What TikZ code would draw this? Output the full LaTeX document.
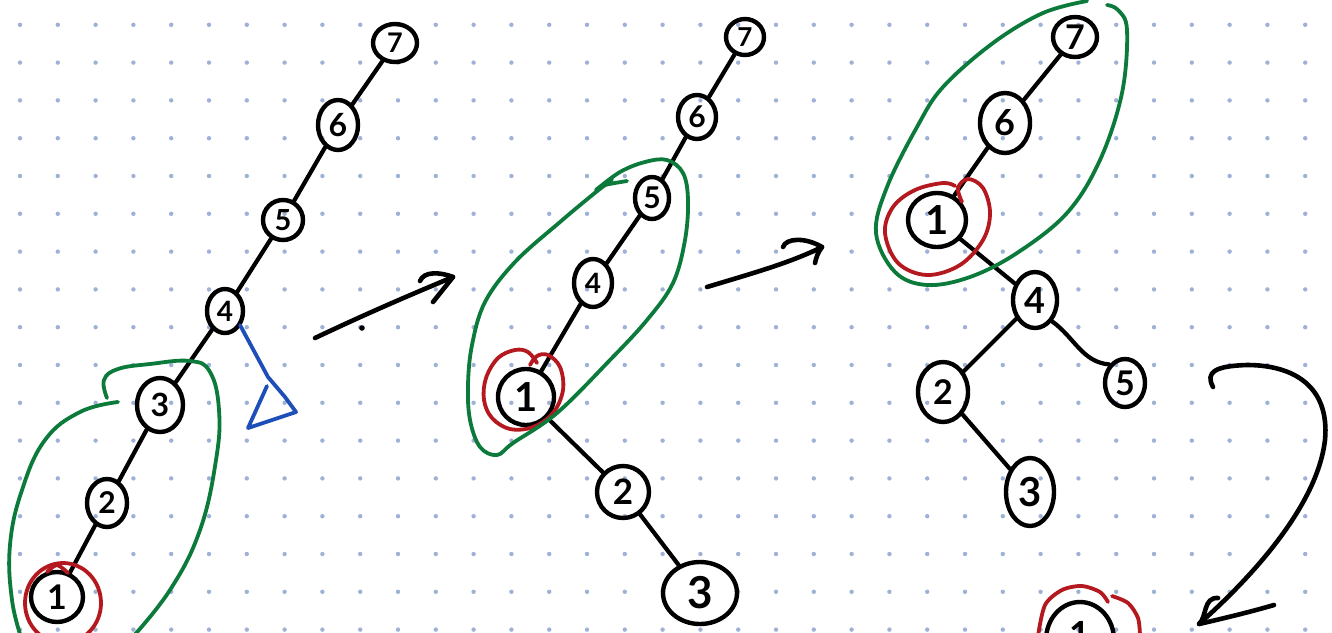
\documentclass[tikz,border=0pt]{standalone}
\usepackage{fontspec}
\setmainfont{Lato}
\usetikzlibrary{shapes.geometric}
\definecolor{inkgreen}{HTML}{0B7A3B}
\definecolor{inkred}{HTML}{B3191E}
\definecolor{inkblue}{HTML}{1E4FB8}
\definecolor{gridblue}{HTML}{9EB1D6}
\newcommand\digsz[1]{\fontsize{#1}{#1}\selectfont\bfseries}
\tikzset{
  vtx/.style={draw, ellipse, line width=4.4pt, inner sep=0pt},
  edge/.style={line width=4.2pt, line cap=round},
  pen/.style={line width=4.6pt, line cap=round, line join=round},
  gloop/.style={draw=inkgreen, line width=3.8pt, line cap=round, line join=round},
  rloop/.style={draw=inkred, line width=3.8pt, line cap=round, line join=round},
  bpen/.style={draw=inkblue, line width=3.8pt, line cap=round, line join=round},
}
\begin{document}
\begin{tikzpicture}[x=1pt,y=-1pt]
\useasboundingbox (0,0) rectangle (1332,632);
\clip (0,0) rectangle (1332,632);
\fill[white] (0,0) rectangle (1332,632);
% dotted paper
\foreach \i in {0,...,34}
  \foreach \j in {0,...,16}
    \fill[gridblue] (20+37.8*\i, 24.8+37.8*\j) circle (2.2);

% ---------- first tree: a chain 7-6-5-4-3-2-1 ----------
\node[vtx, minimum width=44pt, minimum height=38pt, font=\digsz{27}] (a7) at (395,43) {7};
\node[vtx, minimum width=40pt, minimum height=50pt, font=\digsz{32}] (a6) at (338,125) {6};
\node[vtx, minimum width=40pt, minimum height=40pt, font=\digsz{29}] (a5) at (283,220) {5};
\node[vtx, minimum width=36pt, minimum height=44pt, font=\digsz{28}] (a4) at (225,311) {4};
\node[vtx, minimum width=46pt, minimum height=54pt, font=\digsz{32}] (a3) at (160,405) {3};
\node[vtx, minimum width=40pt, minimum height=48pt, font=\digsz{30}] (a2) at (107,503) {2};
\node[vtx, minimum width=52pt, minimum height=50pt, font=\digsz{34}] (a1) at (57,597) {1};
\draw[edge] (a7) -- (a6);
\draw[edge] (a6) -- (a5);
\draw[edge] (a5) -- (a4);
\draw[edge] (a4) -- (a3);
\draw[edge] (a3) -- (a2);
\draw[edge] (a2) -- (a1);
% highlighted leaf and splayed group
\draw[rloop] (63,603) ellipse (38 and 40);
\draw[rloop] plot[smooth] coordinates {(47,572) (57,565) (68,573)};
\draw[gloop] plot[smooth, tension=0.7] coordinates
  {(118,402) (80,412) (45,440) (22,490) (10,545) (12,600) (22,640)};
\draw[gloop] plot[smooth, tension=0.7] coordinates
  {(107,398) (104,380) (118,369) (150,364) (190,361) (210,372) (219,410) (216,460) (200,530) (170,590) (130,640)};
% rotation mark
\draw[bpen] (240,325) -- (268,377) -- (285,397) -- (296,412) -- (248,428) -- (267,386);

% arrow to the second tree
\coordinate (r1s) at (315,338);
\coordinate (r1e) at (453,277);
\draw[pen] (r1s) .. controls (370,312) and (410,295) .. (r1e);
\draw[pen] (420,281) .. controls (424,271) and (440,272) .. (r1e) -- (433,302);
\fill (362,328) circle (2.8);

% ---------- second tree ----------
\node[vtx, minimum width=38pt, minimum height=36pt, font=\digsz{26}] (b7) at (745,37) {7};
\node[vtx, minimum width=38pt, minimum height=44pt, font=\digsz{30}] (b6) at (697,117) {6};
\node[vtx, minimum width=34pt, minimum height=42pt, font=\digsz{30}] (b5) at (652,198) {5};
\node[vtx, minimum width=38pt, minimum height=48pt, font=\digsz{28}] (b4) at (593,283) {4};
\node[vtx, minimum width=56pt, minimum height=56pt, font=\digsz{40}] (b1) at (526,397) {1};
\node[vtx, minimum width=52pt, minimum height=52pt, font=\digsz{35}] (b2) at (623,492) {2};
\node[vtx, minimum width=74pt, minimum height=62pt, font=\digsz{44}] (b3) at (700,593) {3};
\draw[edge] (b7) -- (b6);
\draw[edge] (b6) -- (b5);
\draw[edge] (b5) -- (b4);
\draw[edge] (b4) -- (b1);
\draw[edge] (b1) -- (b2);
\draw[edge] (b2) -- (b3);
\draw[rloop] plot[smooth, tension=0.6] coordinates
  {(537,363) (528,352) (515,350) (498,358) (486,378) (484,400) (492,418) (510,429) (533,427) (553,413) (563,390) (560,367) (548,355) (537,356) (530,365)};
\draw[gloop] plot[smooth] coordinates {(627,181) (605,185) (596,190)};
\draw[gloop] plot[smooth, tension=0.6] coordinates
  {(596,190) (620,172) (645,162) (667,160) (683,173) (688,200) (685,240) (673,283) (647,320) (610,360) (557,413) (513,443) (497,455) (480,447) (470,420) (468,385) (472,345) (485,302) (515,262) (560,222) (596,192) (612,180)};

% arrow to the third tree
\coordinate (r2s) at (707,287);
\coordinate (r2e) at (822,247);
\draw[pen] (r2s) .. controls (750,274) and (790,263) .. (r2e);
\draw[pen] (783,247) .. controls (786,238) and (805,237) .. (r2e) .. controls (818,252) and (816,258) .. (815,263);

% ---------- third tree ----------
\node[vtx, minimum width=44pt, minimum height=40pt, font=\digsz{34}] (c7) at (1075,37) {7};
\node[vtx, minimum width=50pt, minimum height=60pt, font=\digsz{36}] (c6) at (1005,123) {6};
\node[vtx, minimum width=58pt, minimum height=54pt, font=\digsz{40}] (c1) at (937,220) {1};
\node[vtx, minimum width=44pt, minimum height=56pt, font=\digsz{36}] (c4) at (1035,300) {4};
\node[vtx, minimum width=50pt, minimum height=60pt, font=\digsz{34}] (c2) at (943,392) {2};
\node[vtx, minimum width=40pt, minimum height=48pt, font=\digsz{34}] (c5) at (1125,383) {5};
\node[vtx, minimum width=48pt, minimum height=68pt, font=\digsz{40}] (c3) at (1030,492) {3};
\draw[edge] (c7) -- (c6);
\draw[edge] (c6) -- (c1);
\draw[edge] (c1) -- (c4);
\draw[edge] (c4) -- (c2);
\draw[edge] (c4.south east) .. controls (1075,338) and (1082,362) .. (c5.north west);
\draw[edge] (c2) -- (c3);
\draw[rloop] plot[smooth, tension=0.6] coordinates
  {(962,202) (958,188) (968,179) (983,188) (990,213) (983,240) (960,265) (927,275) (898,263) (885,233) (893,207) (915,190) (943,183) (955,186)};
\draw[gloop] plot[smooth, tension=0.6] coordinates
  {(1087,1) (1043,13) (993,43) (943,87) (917,127) (887,187) (876,233) (895,272) (927,285) (970,277) (1017,253) (1067,213) (1100,160) (1122,93) (1127,30) (1118,10) (1107,5)};

% curved arrow down to the next step
\coordinate (r3s) at (1213,387);
\coordinate (r3e) at (1199,624);
\draw[pen] (r3s) .. controls (1205,372) and (1215,366) .. (1247,365)
  .. controls (1292,365) and (1330,385) .. (1325,440)
  .. controls (1318,500) and (1262,568) .. (r3e);
\draw[pen] (1218,598) .. controls (1203,597) and (1207,617) .. (r3e)
  .. controls (1225,618) and (1250,612) .. (1274,605);

% ---------- next step, running off the bottom ----------
\node[vtx, minimum width=68pt, minimum height=76pt, font=\digsz{36}] (d1) at (1080,640) {\raisebox{12pt}{1}};
\draw[rloop] plot[smooth] coordinates {(1038,636) (1045,605) (1062,590) (1082,586) (1100,592) (1108,602)};
\draw[rloop] plot[smooth] coordinates {(1112,596) (1128,603) (1138,618) (1140,636)};
\end{tikzpicture}
\end{document}
